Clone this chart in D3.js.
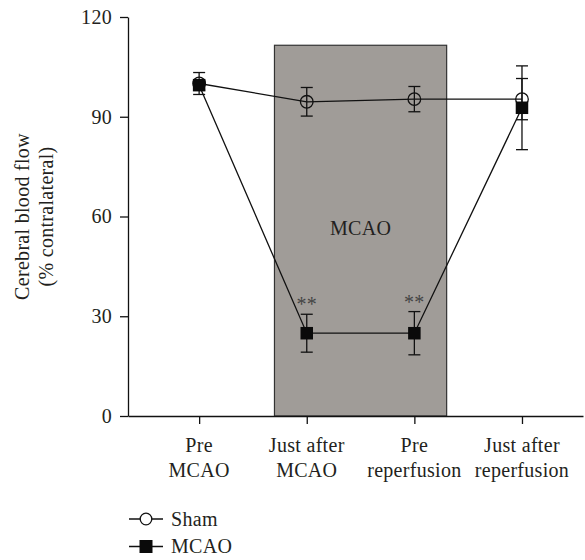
<!DOCTYPE html>
<html>
<head>
<meta charset="utf-8">
<script src="https://cdn.jsdelivr.net/npm/d3@7"></script>
<style>
  html, body { margin: 0; padding: 0; background: #fff; }
  svg { display: block; }
</style>
</head>
<body>
<svg id="chart" width="585" height="560"></svg>
<script>
// Time points (two-line labels)
const categories = [
  ["Pre", "MCAO"],
  ["Just after", "MCAO"],
  ["Pre", "reperfusion"],
  ["Just after", "reperfusion"]
];
const yTicks = [0, 30, 60, 90, 120];

// Cerebral blood flow (% contralateral), mean and error
const shamMean = [100, 94.5, 95.3, 95.3];
const shamErr = [3.3, 4.3, 3.8, 6.2];
const mcaoMean = [99.5, 24.9, 24.9, 92.7];
const mcaoErr = [1.5, 5.7, 6.5, 12.6];
const significance = ["", "**", "**", ""];

// Occlusion period shading (in category index units) and its height
const occlusionSpan = [0.7, 2.3];
const occlusionTop = 111.5;
const occlusionLabel = "MCAO";

const seriesNames = ["Sham", "MCAO"];

const FONT = "'Liberation Serif', 'DejaVu Serif', serif";
const FS = 20;

const svg = d3.select("#chart");

const x = d3.scaleLinear().domain([-0.661, 3.567]).range([128, 583]);
const y = d3.scaleLinear().domain([0, 120]).range([416, 17]);

function label(sel) {
  return sel.style("font-family", FONT)
    .style("font-size", FS + "px")
    .style("letter-spacing", "0.3px")
    .attr("fill", "#231f20");
}

// Occlusion shading
svg.append("rect")
  .attr("x", x(occlusionSpan[0]))
  .attr("y", y(occlusionTop))
  .attr("width", x(occlusionSpan[1]) - x(occlusionSpan[0]))
  .attr("height", y(0) - y(occlusionTop))
  .attr("fill", "#a09c98")
  .attr("stroke", "#333")
  .attr("stroke-width", 1.2);

label(svg.append("text"))
  .attr("x", x((occlusionSpan[0] + occlusionSpan[1]) / 2))
  .attr("y", y(54.4))
  .attr("text-anchor", "middle")
  .text(occlusionLabel);

// Axes
const yAxis = d3.axisLeft(y).tickValues(yTicks).tickSize(8).tickSizeOuter(0).tickPadding(8);
const gy = svg.append("g").attr("transform", `translate(${x.range()[0]},0)`).call(yAxis);
label(gy.selectAll("text"));

const xAxis = d3.axisBottom(x).tickValues([0, 1, 2, 3]).tickSize(8).tickSizeOuter(0).tickFormat("");
const gx = svg.append("g").attr("transform", `translate(0,${y(0)})`).call(xAxis);

[gx, gy].forEach(g => {
  g.select(".domain").attr("stroke", "#111").attr("stroke-width", 1.3);
  g.selectAll(".tick line").attr("stroke", "#111").attr("stroke-width", 1.3);
});

// Category labels
categories.forEach((lines, i) => {
  const t = label(svg.append("text")).attr("text-anchor", "middle");
  lines.forEach((ln, k) => {
    t.append("tspan").attr("x", x(i)).attr("y", 452 + k * 25).text(ln);
  });
});

// Y axis title
const yTitle = ["Cerebral blood flow", "(% contralateral)"];
yTitle.forEach((ln, k) => {
  label(svg.append("text"))
    .attr("transform", `translate(${29 + k * 24},${y(60)}) rotate(-90)`)
    .attr("text-anchor", "middle")
    .text(ln);
});

// Series lines
const line = d3.line().x((d, i) => x(i)).y(d => y(d));
svg.append("path").datum(shamMean).attr("d", line)
  .attr("fill", "none").attr("stroke", "#111").attr("stroke-width", 1.3);
svg.append("path").datum(mcaoMean).attr("d", line)
  .attr("fill", "none").attr("stroke", "#111").attr("stroke-width", 1.3);

// Error bars
function errorBars(means, errs) {
  const g = svg.append("g").attr("stroke", "#111").attr("stroke-width", 1.3);
  means.forEach((m, i) => {
    const cx = x(i), top = y(m + errs[i]), bot = y(m - errs[i]);
    g.append("line").attr("x1", cx).attr("x2", cx).attr("y1", top).attr("y2", bot);
    g.append("line").attr("x1", cx - 6).attr("x2", cx + 6).attr("y1", top).attr("y2", top);
    g.append("line").attr("x1", cx - 6).attr("x2", cx + 6).attr("y1", bot).attr("y2", bot);
  });
}
errorBars(shamMean, shamErr);
errorBars(mcaoMean, mcaoErr);

// Markers
svg.append("g").selectAll("circle").data(shamMean).join("circle")
  .attr("cx", (d, i) => x(i)).attr("cy", d => y(d)).attr("r", 6.3)
  .attr("fill", "none").attr("stroke", "#111").attr("stroke-width", 1.3);

const sq = 12.5;
svg.append("g").selectAll("rect").data(mcaoMean).join("rect")
  .attr("x", (d, i) => x(i) - sq / 2).attr("y", d => y(d) - sq / 2)
  .attr("width", sq).attr("height", sq).attr("fill", "#0a0a0a");

// Significance markers
significance.forEach((s, i) => {
  if (!s) return;
  label(svg.append("text"))
    .attr("x", x(i)).attr("y", y(mcaoMean[i] + mcaoErr[i]) - 3)
    .attr("text-anchor", "middle")
    .attr("fill", "#444")
    .text(s);
});

// Legend
const legend = svg.append("g");
[0, 1].forEach(k => {
  const ly = 519 + k * 27.5;
  legend.append("line").attr("x1", 129).attr("x2", 163).attr("y1", ly).attr("y2", ly)
    .attr("stroke", "#111").attr("stroke-width", 1.3);
  if (k === 0) {
    legend.append("circle").attr("cx", 146).attr("cy", ly).attr("r", 5.8)
      .attr("fill", "#fff").attr("stroke", "#111").attr("stroke-width", 1.3);
  } else {
    legend.append("rect").attr("x", 146 - 6.5).attr("y", ly - 6.5)
      .attr("width", 13).attr("height", 13).attr("fill", "#0a0a0a");
  }
  label(legend.append("text")).attr("x", 171).attr("y", ly + 6.5)
    .text(seriesNames[k]);
});
</script>
</body>
</html>
